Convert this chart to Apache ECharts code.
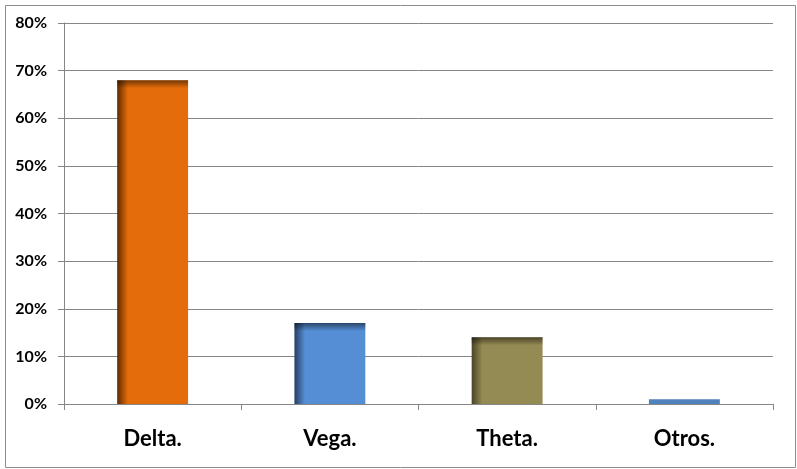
<!DOCTYPE html>
<html><head><meta charset="utf-8">
<script src="https://cdn.jsdelivr.net/npm/echarts@6/dist/echarts.min.js"></script>
<style>html,body{margin:0;padding:0;background:#fff}#c{width:797px;height:469px}</style>
</head><body><div id="c"></div>
<script>
const categories = ['Delta.', 'Vega.', 'Theta.', 'Otros.'];
const values = [68, 17, 14, 1];
const yTicks = [0, 10, 20, 30, 40, 50, 60, 70, 80];
const baseColors = ['#E46C0A', '#558ED5', '#948A54', '#4F81BD'];
const darkColors = ['#5e2a02', '#263f63', '#4a4428', '#4F81BD'];

const chart = echarts.init(document.getElementById('c'));
chart.setOption({
  animation: false,
  backgroundColor: '#fff',
  graphic: [{
    type: 'rect', left: 3, top: 3, z: -1,
    shape: { width: 790, height: 462 },
    style: { fill: 'none', stroke: '#8c8c8c', lineWidth: 1 }
  }],
  grid: { left: 64, right: 24, top: 23, bottom: 65 },
  xAxis: {
    type: 'category', data: categories,
    axisLine: { lineStyle: { color: '#868686' } },
    axisTick: { show: true, length: 6, lineStyle: { color: '#868686' } },
    axisLabel: { fontFamily: 'Lato', fontWeight: 'bold', fontSize: 22, color: '#000', margin: 24 }
  },
  yAxis: {
    type: 'value', min: yTicks[0], max: yTicks[yTicks.length - 1], interval: 10,
    axisLine: { show: true, lineStyle: { color: '#868686' } },
    axisTick: { show: true, length: 6, lineStyle: { color: '#868686' } },
    splitLine: { lineStyle: { color: '#868686' } },
    axisLabel: { formatter: '{value}%', fontFamily: 'Lato', fontWeight: 'bold', fontSize: 16, color: '#000', margin: 17 }
  },
  series: [{
    type: 'custom',
    data: values.map((v, i) => [i, v]),
    renderItem: function (params, api) {
      const i = api.value(0), v = api.value(1);
      const top = api.coord([i, v]);
      const bot = api.coord([i, 0]);
      const w = api.size([1, 0])[0] * 0.4;
      const x0 = top[0] - w / 2;
      const h = bot[1] - top[1];
      const base = baseColors[i], dark = darkColors[i];
      const shaded = h > 12;
      const children = [{
        type: 'rect',
        shape: { x: x0, y: top[1], width: w, height: h },
        style: {
          fill: shaded ? new echarts.graphic.LinearGradient(0, 0, 1, 0, [
            { offset: 0, color: dark },
            { offset: 0.15, color: base },
            { offset: 1, color: base }
          ]) : base
        }
      }];
      if (shaded) {
        children.push({
          type: 'rect',
          shape: { x: x0, y: top[1], width: w, height: 8 },
          style: {
            fill: new echarts.graphic.LinearGradient(0, 0, 0, 1, [
              { offset: 0, color: 'rgba(0,0,0,0.5)' },
              { offset: 1, color: 'rgba(0,0,0,0)' }
            ])
          }
        });
      }
      return { type: 'group', children: children };
    }
  }]
});
</script></body></html>
